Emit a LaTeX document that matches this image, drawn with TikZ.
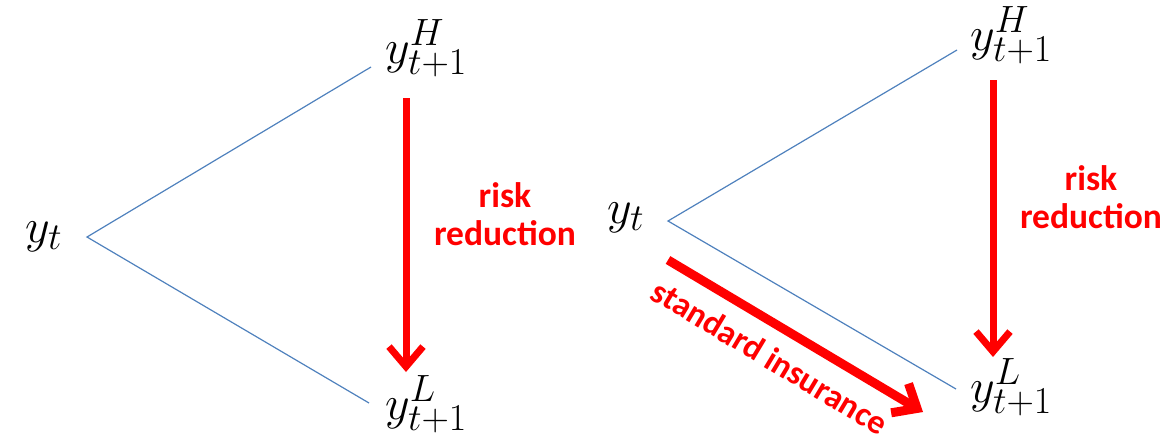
\RequirePackage{fix-cm}
\documentclass[tikz,border=0pt]{standalone}
\usepackage{fontspec}
\newfontfamily\calibri{Carlito}
\usetikzlibrary{arrows.meta}
\DeclareMathSizes{48}{48}{38}{30}
\definecolor{offblue}{RGB}{79,129,189}
\definecolor{pptred}{RGB}{255,0,0}
\tikzset{
  mathlbl/.style={inner sep=0pt, anchor=base west, font=\fontsize{48}{56}\selectfont},
  branch/.style={draw=offblue, line width=1.2pt},
  redarrow/.style={draw=pptred, line width=7pt, -{Straight Barb[length=20pt,width=34pt]}},
  redtext/.style={text=pptred, font=\calibri\bfseries\fontsize{35.5}{38}\selectfont, align=center, inner sep=0pt}
}
\begin{document}
\begin{tikzpicture}[x=1pt,y=-1pt]
\useasboundingbox (0,0) rectangle (1168,437);
% left diagram
\node[mathlbl] (ytL) at (25,242) {$y_t$};
\node[mathlbl] (yHL) at (385,63) {$y_{t+1}^{H}$};
\node[mathlbl] (yLL) at (385,419) {$y_{t+1}^{L}$};
\coordinate (apexL) at (87,237);
\coordinate (upL) at (371,67);
\coordinate (lowL) at (369,403);
\draw[branch] (upL) -- (apexL) -- (lowL);
\coordinate (arrLs) at (406,98);
\coordinate (arrLe) at (406,372);
\draw[redarrow] (arrLs) -- (arrLe);
\node[redtext, anchor=base] (rrL) at (505,245) {risk\\reduction};
% right diagram
\node[mathlbl] (ytR) at (607,223) {$y_t$};
\node[mathlbl] (yHR) at (970,50) {$y_{t+1}^{H}$};
\node[mathlbl] (yLR) at (970,402) {$y_{t+1}^{L}$};
\coordinate (apexR) at (668,221);
\coordinate (upR) at (957,50);
\coordinate (lowR) at (956,389);
\draw[branch] (upR) -- (apexR) -- (lowR);
\coordinate (arrRs) at (993,80);
\coordinate (arrRe) at (993,357);
\draw[redarrow] (arrRs) -- (arrRe);
\node[redtext, anchor=base] (rrR) at (1091,228) {risk\\reduction};
\coordinate (insS) at (668,260);
\coordinate (insE) at (923,412);
\draw[redarrow, line width=9pt] (insS) -- (insE);
\node[redtext, font=\calibri\bfseries\fontsize{34}{38}\selectfont, rotate=-31] (ins) at (770,357) {standard insurance};
\end{tikzpicture}
\end{document}
